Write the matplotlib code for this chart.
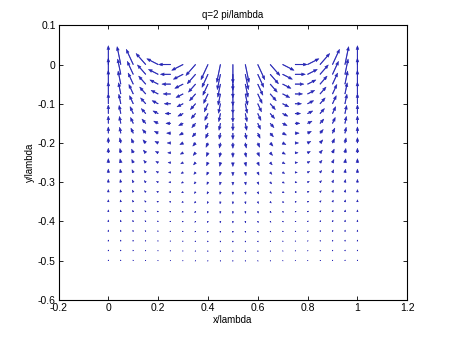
#!/usr/bin/env python3
"""Velocity field under a surface wave, q = 2 pi / lambda (quiver plot)."""

import matplotlib

matplotlib.use("Agg")
import matplotlib.pyplot as plt
import numpy as np

# grid positions (in units of lambda)
X_LAMBDA = [0.00, 0.05, 0.10, 0.15, 0.20, 0.25, 0.30, 0.35, 0.40, 0.45, 0.50,
            0.55, 0.60, 0.65, 0.70, 0.75, 0.80, 0.85, 0.90, 0.95, 1.00]
Y_LAMBDA = [0.000, -0.025, -0.050, -0.075, -0.100, -0.125, -0.150, -0.175,
            -0.200, -0.225, -0.250, -0.275, -0.300, -0.325, -0.350, -0.375,
            -0.400, -0.425, -0.450, -0.475, -0.500]

# arrow direction in each column (degrees)
COLUMN_ANGLE_DEG = [90, 108, 126, 144, 162, 180, 198, 216, 234, 252, 270,
                    288, 306, 324, 342, 360, 378, 396, 414, 432, 450]

# relative arrow length in each row (top row = 1)
ROW_MAGNITUDE = [1.00, 0.855, 0.73, 0.624, 0.534, 0.456, 0.39, 0.333, 0.285,
                 0.243, 0.208, 0.178, 0.152, 0.13, 0.111, 0.095, 0.081,
                 0.069, 0.059, 0.051, 0.043]

TITLE = "q=2 pi/lambda"
X_LABEL = "x/lambda"
Y_LABEL = "y/lambda"
X_TICKS = [-0.2, 0, 0.2, 0.4, 0.6, 0.8, 1, 1.2]
Y_TICKS = [-0.6, -0.5, -0.4, -0.3, -0.2, -0.1, 0, 0.1]

FONT = "Liberation Sans"
ARROW_COLOR = "#2323b4"


def tick_text(v):
    return f"{v:g}"


def main():
    plt.rcParams["font.family"] = [FONT, "DejaVu Sans"]

    xg, yg = np.meshgrid(X_LAMBDA, Y_LAMBDA)
    ang = np.radians(np.array(COLUMN_ANGLE_DEG))
    mag = np.array(ROW_MAGNITUDE)
    u = mag[:, None] * np.cos(ang)[None, :]
    v = mag[:, None] * np.sin(ang)[None, :]

    # matlab-style autoscale: longest arrow ~0.9 of a grid cell
    n = len(X_LAMBDA)
    delx = (max(X_LAMBDA) - min(X_LAMBDA)) / n
    dely = (max(Y_LAMBDA) - min(Y_LAMBDA)) / n
    cell = np.hypot(delx, dely)
    maxlen = np.max(np.hypot(u, v))
    factor = 0.9 * cell / maxlen

    fig = plt.figure(figsize=(4.5, 3.37), dpi=100)
    ax = fig.add_axes([0.13, 0.11, 0.775, 0.815])
    ax.quiver(xg, yg, u, v, angles="xy", scale_units="xy", scale=1 / factor,
              color=ARROW_COLOR, edgecolor=ARROW_COLOR, linewidth=0.35,
              width=0.0018, headwidth=4.5, headlength=6, headaxislength=5.5,
              minlength=0.5)

    ax.set_xlim(-0.2, 1.2)
    ax.set_ylim(-0.6, 0.1)
    ax.set_xticks(X_TICKS)
    ax.set_yticks(Y_TICKS)
    ax.set_xticklabels([tick_text(t) for t in X_TICKS])
    ax.set_yticklabels([tick_text(t) for t in Y_TICKS])
    ax.tick_params(direction="in", length=3, width=0.6, labelsize=7.5,
                   top=True, right=True, pad=2)
    for sp in ax.spines.values():
        sp.set_linewidth(0.8)

    ax.set_title(TITLE, fontsize=7, pad=5)
    ax.set_xlabel(X_LABEL, fontsize=7, labelpad=2)
    ax.set_ylabel(Y_LABEL, fontsize=7, labelpad=2)

    fig.savefig("out.png", dpi=100)
    plt.close(fig)


if __name__ == "__main__":
    main()
